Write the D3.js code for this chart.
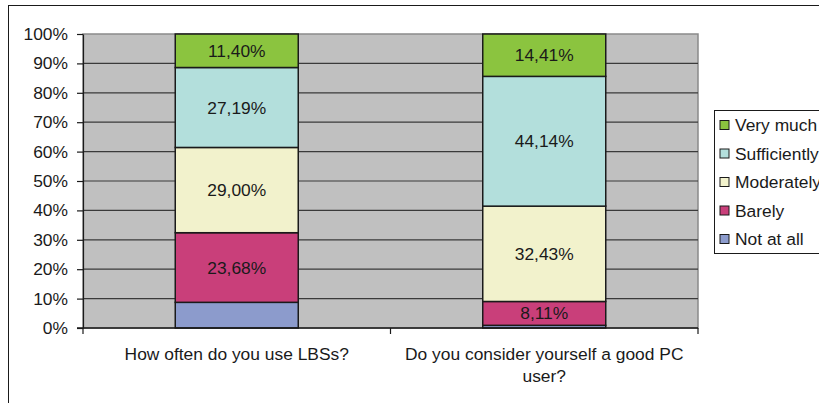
<!DOCTYPE html>
<html>
<head>
<meta charset="utf-8">
<script src="https://cdn.jsdelivr.net/npm/d3@7/dist/d3.min.js"></script>
<style>
  html, body { margin: 0; padding: 0; background: #fff; }
  svg { display: block; font-family: "Liberation Sans", Arial, sans-serif; }
</style>
</head>
<body>
<svg id="chart" width="819" height="403"></svg>
<script>
// Survey questions (x categories)
const categories = [
  ["How often do you use LBSs?"],
  ["Do you consider yourself a good PC", "user?"]
];
const categoryKeys = ["lbs", "pc"];

// Answer levels, bottom to top of each stack
const seriesNames = ["Not at all", "Barely", "Moderately", "Sufficiently", "Very much"];
const seriesColors = ["#8c9bcc", "#c93f7a", "#f2f2cc", "#b3dfdc", "#8bc43f"];

// Percentages per answer level, one value per question
const notAtAll     = [8.73, 0.91];
const barely       = [23.68, 8.11];
const moderately   = [29.00, 32.43];
const sufficiently = [27.19, 44.14];
const veryMuch     = [11.40, 14.41];

// Which segments carry a value label
const showLabel = [[false, false], [true, true], [true, true], [true, true], [true, true]];

const yTicks = [0, 10, 20, 30, 40, 50, 60, 70, 80, 90, 100];

const seriesValues = [notAtAll, barely, moderately, sufficiently, veryMuch];
const rows = categoryKeys.map((k, i) => {
  const r = { key: k };
  seriesNames.forEach((s, j) => { r[s] = seriesValues[j][i]; });
  return r;
});

const FONT = "17.4px";
const svg = d3.select("#chart");
const plot = { left: 83, right: 698, top: 34, bottom: 328 };

// chart frame
svg.append("rect")
  .attr("x", 8.5).attr("y", 5.5)
  .attr("width", 830).attr("height", 420)
  .attr("fill", "#fff").attr("stroke", "#1a1a1a").attr("stroke-width", 1);

const x = d3.scaleBand()
  .domain(categoryKeys)
  .range([plot.left, plot.right])
  .paddingInner(0.6)
  .paddingOuter(0.3);

const y = d3.scaleLinear().domain([0, 100]).range([plot.bottom, plot.top]);

// plot area background
svg.append("rect")
  .attr("x", plot.left).attr("y", plot.top)
  .attr("width", plot.right - plot.left).attr("height", plot.bottom - plot.top)
  .attr("fill", "#c0c0c0").attr("stroke", "#8a8a8a").attr("stroke-width", 1.5);

// horizontal gridlines
svg.append("g")
  .selectAll("line")
  .data(yTicks.filter(t => t > 0 && t < 100))
  .join("line")
  .attr("x1", plot.left).attr("x2", plot.right)
  .attr("y1", d => y(d)).attr("y2", d => y(d))
  .attr("stroke", "#3a3a3a").attr("stroke-width", 1.2);

// y axis
const yAxis = svg.append("g")
  .attr("transform", `translate(${plot.left},0)`)
  .call(d3.axisLeft(y).tickValues(yTicks).tickFormat(d => d + "%").tickSize(6).tickSizeOuter(0));
yAxis.select(".domain").attr("stroke", "#1a1a1a").attr("stroke-width", 1.2);
yAxis.selectAll(".tick line").attr("stroke", "#1a1a1a").attr("stroke-width", 1.2);
yAxis.selectAll(".tick text")
  .attr("x", -15)
  .attr("fill", "#1a1a1a")
  .style("font-size", FONT)
  .style("font-family", "'Liberation Sans', Arial, sans-serif");

// stacked bars
const stack = d3.stack().keys(seriesNames);
const stacked = stack(rows);

const layers = svg.append("g")
  .selectAll("g")
  .data(stacked)
  .join("g")
  .attr("fill", (d, i) => seriesColors[i]);

layers.selectAll("rect")
  .data(d => d)
  .join("rect")
  .attr("x", d => x(d.data.key))
  .attr("width", x.bandwidth())
  .attr("y", d => y(d[1]))
  .attr("height", d => y(d[0]) - y(d[1]))
  .attr("stroke", "#1a1a1a")
  .attr("stroke-width", 1.5);

// value labels
stacked.forEach((layer, si) => {
  layer.forEach((d, ci) => {
    if (!showLabel[si][ci]) return;
    const v = d[1] - d[0];
    svg.append("text")
      .attr("x", x(d.data.key) + x.bandwidth() / 2)
      .attr("y", y((d[0] + d[1]) / 2))
      .attr("dy", "0.35em")
      .attr("text-anchor", "middle")
      .attr("fill", "#1a1a1a")
      .style("font-size", FONT)
      .text(v.toFixed(2).replace(".", ",") + "%");
  });
});

// x axis baseline
svg.append("line")
  .attr("x1", plot.left - 6).attr("x2", plot.right)
  .attr("y1", plot.bottom).attr("y2", plot.bottom)
  .attr("stroke", "#1a1a1a").attr("stroke-width", 1.5);
// category separators
[plot.left, (plot.left + plot.right) / 2, plot.right].forEach(px => {
  svg.append("line")
    .attr("x1", px).attr("x2", px)
    .attr("y1", plot.bottom).attr("y2", plot.bottom + 6)
    .attr("stroke", "#1a1a1a").attr("stroke-width", 1.2);
});

// category labels
categoryKeys.forEach((k, i) => {
  const t = svg.append("text")
    .attr("text-anchor", "middle")
    .attr("fill", "#1a1a1a")
    .style("font-size", FONT);
  categories[i].forEach((line, li) => {
    t.append("tspan")
      .attr("x", x(k) + x.bandwidth() / 2)
      .attr("y", 360 + li * 21.5)
      .text(line);
  });
});

// legend
const legend = svg.append("g").attr("transform", "translate(714,110)");
legend.append("rect")
  .attr("x", 0.5).attr("y", 0.5)
  .attr("width", 130).attr("height", 143)
  .attr("fill", "#fff").attr("stroke", "#1a1a1a").attr("stroke-width", 1);

const legendOrder = seriesNames.map((s, i) => i).reverse();
legendOrder.forEach((si, k) => {
  const g = legend.append("g").attr("transform", `translate(0,${15 + k * 28.5})`);
  g.append("rect")
    .attr("x", 6).attr("y", -4.5)
    .attr("width", 9).attr("height", 9)
    .attr("fill", seriesColors[si])
    .attr("stroke", "#1a1a1a").attr("stroke-width", 1);
  g.append("text")
    .attr("x", 21).attr("y", 0).attr("dy", "0.35em")
    .attr("fill", "#1a1a1a")
    .style("font-size", FONT)
    .text(seriesNames[si]);
});
</script>
</body>
</html>
